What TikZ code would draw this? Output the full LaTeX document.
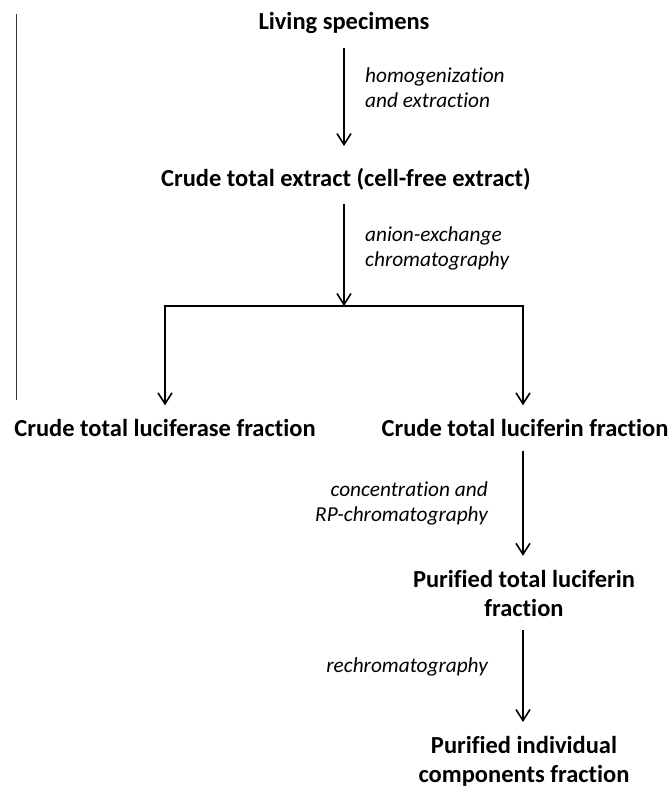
\documentclass[tikz,border=0pt]{standalone}
\usepackage{fontspec}
\setmainfont{Carlito}[Ligatures=NoCommon]
\usetikzlibrary{arrows.meta}

\begin{document}
\begin{tikzpicture}[x=1pt,y=-1pt,
  stage/.style={font=\fontsize{24.5}{29}\selectfont\bfseries, align=center, inner sep=0pt, outer ysep=14pt},
  how/.style={font=\fontsize{21.3}{25}\selectfont\itshape, inner sep=0pt},
  flow/.style={-{Straight Barb[length=11pt,width=14pt]}, line width=1.6pt},
  rail/.style={line width=1.6pt, line cap=rect}]
\useasboundingbox (0,0) rectangle (672,788);
\draw[line width=1pt, black!80] (16,14) -- (16,400);

\node[stage] (living) at (344,23) {Living specimens};
\node[stage] (extract) at (346,179) {Crude total extract (cell-free extract)};
\node[stage] (lucase) at (165,428) {Crude total luciferase fraction};
\node[stage] (lucin) at (525,428) {Crude total luciferin fraction};
\node[stage] (purtot) at (524,593) {Purified total luciferin\\fraction};
\node[stage] (purind) at (524,761) {Purified individual\\components fraction};

\coordinate (split) at (344,306);
\coordinate (splitL) at (165,306);
\coordinate (splitR) at (523,306);

\draw[flow, shorten >=8pt] (living) -- (extract.north -| living);
\draw[flow] (extract.south -| split) -- (split);
\draw[rail] (splitL) -- (splitR);
\draw[flow] (splitL) -- (lucase);
\draw[flow] (splitR) -- (lucin.north -| splitR);
\draw[flow] (lucin.south -| splitR) -- (purtot.north -| splitR);
\draw[flow] (purtot.south -| splitR) -- (purind.north -| splitR);

\node[how, anchor=west, align=left] (homog) at (365,88) {homogenization\\and extraction};
\node[how, anchor=west, align=left] (anion) at (365,248) {anion-exchange\\chromatography};
\node[how, anchor=east, align=right] (rpchrom) at (488,503) {concentration and\\RP-chromatography};
\node[how, anchor=east] (rechrom) at (488,667) {rechromatography};

\end{tikzpicture}
\end{document}
